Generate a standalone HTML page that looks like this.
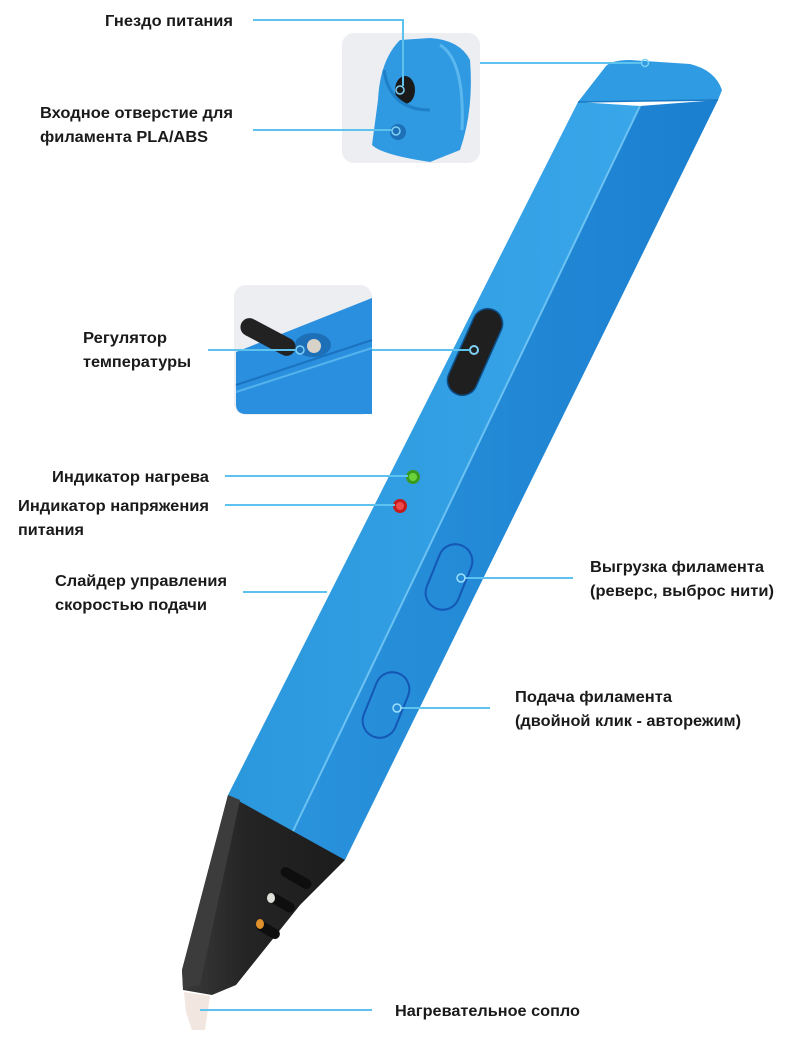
<!DOCTYPE html>
<html><head><meta charset="utf-8"><style>
html,body{margin:0;padding:0;background:#fff;}
svg{display:block}
text{font-family:"Liberation Sans","DejaVu Sans",sans-serif;font-size:16px;fill:#1a1a1a;}
</style></head><body>
<svg width="790" height="1040" viewBox="0 0 790 1040" xmlns="http://www.w3.org/2000/svg">
<defs>
<linearGradient id="gL" x1="0" y1="0" x2="1" y2="0"><stop offset="0" stop-color="#2b97dc"/><stop offset="1" stop-color="#3aa6ea"/></linearGradient>
<linearGradient id="gR" x1="0" y1="0" x2="1" y2="0"><stop offset="0" stop-color="#2a93dc"/><stop offset="1" stop-color="#1b7fd0"/></linearGradient>
<linearGradient id="gN" x1="0" y1="0" x2="1" y2="0"><stop offset="0" stop-color="#3a3a3a"/><stop offset="0.4" stop-color="#242424"/><stop offset="1" stop-color="#1c1c1c"/></linearGradient>
</defs>

<!-- pen body: left face -->
<polygon points="578,102 640,106 283,852 228,795" fill="url(#gL)"/>
<!-- right face -->
<polygon points="640,106 718,100 345,860 283,852" fill="url(#gR)"/>
<line x1="640" y1="106" x2="283" y2="852" stroke="#6cc2f2" stroke-width="2"/>
<!-- cap -->
<path d="M578,102 L606,66 Q612,60 630,60 L690,64 Q715,70 722,90 L718,100 Z" fill="#2e9be2"/>
<path d="M578,102 L718,100" stroke="#1a79c4" stroke-width="1.5"/>
<circle cx="645" cy="63" r="3.5" fill="none" stroke="#7fd0f5" stroke-width="1.5"/>

<!-- temperature black pill -->
<g transform="translate(475,352) rotate(24)">
<rect x="-15" y="-46" width="30" height="92" rx="15" fill="#1f1f1f" stroke="#0d4f8a" stroke-width="1.5"/>
</g>
<circle cx="474" cy="350" r="4" fill="none" stroke="#7fd0f5" stroke-width="2"/>

<!-- LEDs -->
<circle cx="413" cy="477" r="7" fill="#3a9a20"/><circle cx="413" cy="477" r="4" fill="#6bd33a"/>
<circle cx="400" cy="506" r="7" fill="#c51b1b"/><circle cx="400" cy="506" r="4" fill="#f04a4a"/>

<!-- buttons -->
<g transform="translate(449,577) rotate(22)"><rect x="-17" y="-34" width="34" height="68" rx="17" fill="none" stroke="#1457b5" stroke-width="2"/></g>
<g transform="translate(386,705) rotate(22)"><rect x="-17" y="-34" width="34" height="68" rx="17" fill="none" stroke="#1457b5" stroke-width="2"/></g>

<!-- nozzle -->
<polygon points="228,795 345,860 300,905 236,985 212,995 183,990 182,970" fill="url(#gN)"/>
<polygon points="228,795 240,800 200,985 183,988 182,970" fill="#3c3c3c"/>
<g fill="#0e0e0e">
<g transform="translate(296,878) rotate(30)"><rect x="-17" y="-5" width="34" height="10" rx="5"/></g>
<g transform="translate(282,903) rotate(30)"><rect x="-14" y="-5" width="28" height="10" rx="5"/></g>
<g transform="translate(268,930) rotate(30)"><rect x="-13" y="-5" width="26" height="10" rx="5"/></g>
</g>
<ellipse cx="271" cy="898" rx="4" ry="5" fill="#e0e0d8"/>
<ellipse cx="260" cy="924" rx="4" ry="5" fill="#e0902a"/>
<polygon points="184,992 210,996 205,1030 192,1030 186,1012" fill="#f2e6e0"/>

<!-- inset box 1 -->
<rect x="342" y="33" width="138" height="130" rx="12" fill="#eceef2"/>
<path d="M372,145 Q382,155 430,162 L460,150 Q474,110 470,60 Q460,40 430,38 L400,40 Q380,60 378,100 Z" fill="#2f9ae2"/>
<path d="M440,45 Q465,60 462,130" stroke="#5ab8ee" stroke-width="3" fill="none"/>
<ellipse cx="405" cy="90" rx="10" ry="14" fill="#1a1a1a"/>
<path d="M384,70 Q390,110 430,110" stroke="#1f7fc8" stroke-width="3" fill="none"/>
<ellipse cx="398" cy="132" rx="8" ry="8" fill="#1d6fb8"/>
<circle cx="400" cy="90" r="4" fill="none" stroke="#7fd0f5" stroke-width="1.5"/>
<circle cx="396" cy="131" r="4" fill="none" stroke="#7fd0f5" stroke-width="1.5"/>

<!-- inset box 2 -->
<rect x="234" y="285" width="138" height="130" rx="12" fill="#eceef2"/>
<path d="M236,352 L372,298 L372,414 L246,414 Q236,414 236,404 Z" fill="#2a8fde"/>
<path d="M236,385 L372,340" stroke="#1a72c0" stroke-width="2"/>
<path d="M236,392 L372,348" stroke="#55b3ec" stroke-width="2"/>
<ellipse cx="313" cy="345" rx="18" ry="12" fill="#1d6fb8"/>
<circle cx="314" cy="346" r="7" fill="#d8d2c8"/>
<g transform="translate(268,337) rotate(28)"><rect x="-30" y="-9" width="60" height="18" rx="9" fill="#222"/></g>
<circle cx="300" cy="350" r="4" fill="none" stroke="#7fd0f5" stroke-width="1.5"/>

<!-- connectors -->
<g stroke="#5ec2ee" stroke-width="2" fill="none">
<path d="M253,20 H403 V86"/>
<path d="M253,130 H392"/>
<path d="M480,63 H641"/>
<path d="M208,350 H296"/>
<path d="M372,350 H470"/>
<path d="M225,476 H408"/>
<path d="M225,505 H395"/>
<path d="M243,592 H327"/>
<path d="M464,578 H573"/>
<path d="M400,708 H490"/>
<path d="M200,1010 H372"/>
</g>
<g fill="none" stroke="#9fe0ff" stroke-width="1.5">
<circle cx="461" cy="578" r="4"/>
<circle cx="397" cy="708" r="4"/>
</g>

<!-- labels -->
<g font-weight="bold">
<text x="105" y="26" textLength="128" lengthAdjust="spacingAndGlyphs">Гнездо питания</text>
<text x="40" y="118" textLength="193" lengthAdjust="spacingAndGlyphs">Входное отверстие для</text>
<text x="40" y="142" textLength="168" lengthAdjust="spacingAndGlyphs">филамента PLA/ABS</text>
<text x="83" y="343" textLength="84" lengthAdjust="spacingAndGlyphs">Регулятор</text>
<text x="83" y="367" textLength="108" lengthAdjust="spacingAndGlyphs">температуры</text>
<text x="52" y="482" textLength="157" lengthAdjust="spacingAndGlyphs">Индикатор нагрева</text>
<text x="18" y="511" textLength="191" lengthAdjust="spacingAndGlyphs">Индикатор напряжения</text>
<text x="18" y="535" textLength="66" lengthAdjust="spacingAndGlyphs">питания</text>
<text x="55" y="586" textLength="172" lengthAdjust="spacingAndGlyphs">Слайдер управления</text>
<text x="55" y="610" textLength="152" lengthAdjust="spacingAndGlyphs">скоростью подачи</text>
<text x="590" y="572" textLength="174" lengthAdjust="spacingAndGlyphs">Выгрузка филамента</text>
<text x="590" y="596" textLength="184" lengthAdjust="spacingAndGlyphs">(реверс, выброс нити)</text>
<text x="515" y="702" textLength="157" lengthAdjust="spacingAndGlyphs">Подача филамента</text>
<text x="515" y="726" textLength="226" lengthAdjust="spacingAndGlyphs">(двойной клик - авторежим)</text>
<text x="395" y="1016" textLength="185" lengthAdjust="spacingAndGlyphs">Нагревательное сопло</text>
</g>
</svg>
</body></html>
